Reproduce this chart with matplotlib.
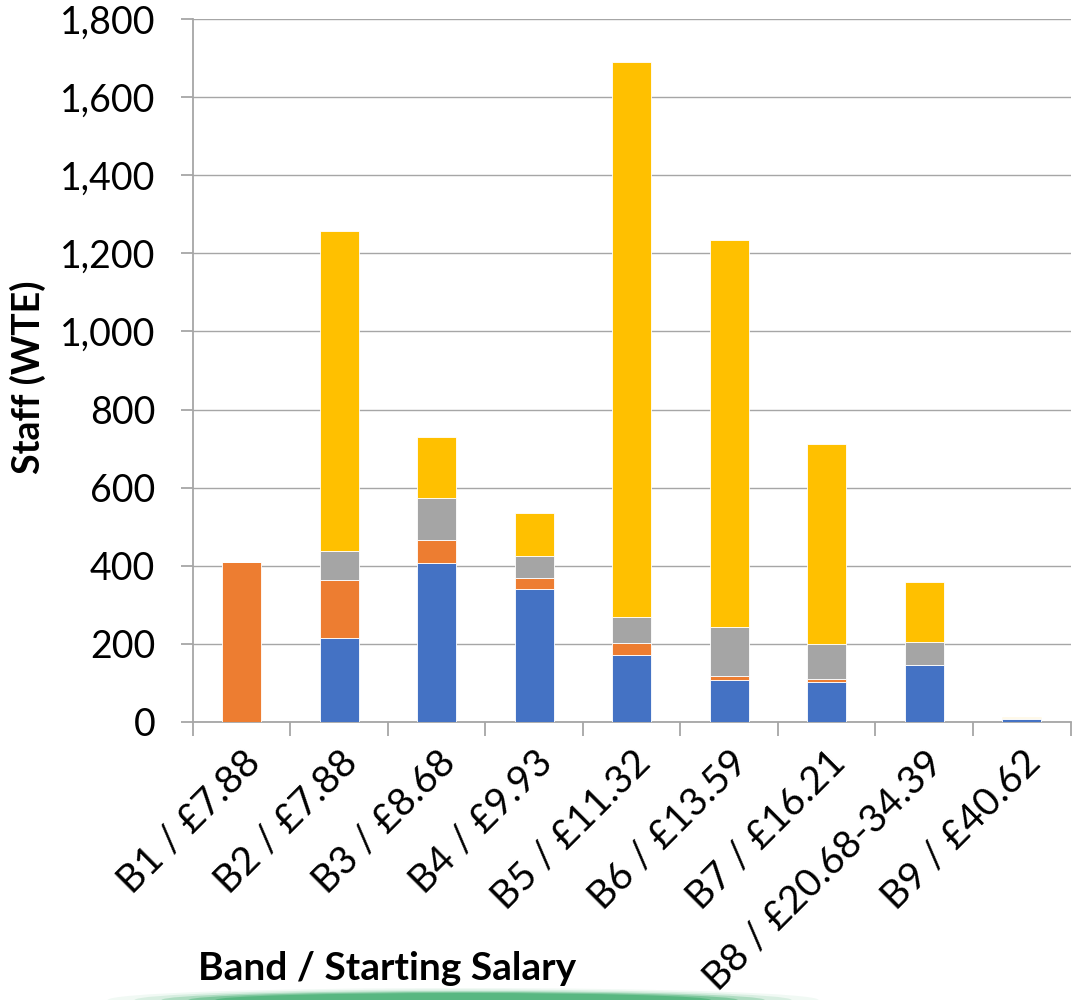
import numpy as np
from matplotlib import pyplot as plt
from matplotlib.patches import Ellipse
from matplotlib.ticker import FuncFormatter, MultipleLocator

plt.rcParams["font.family"] = ["Lato", "DejaVu Sans"]

# Data
bands = ["B1 / £7.88", "B2 / £7.88", "B3 / £8.68", "B4 / £9.93", "B5 / £11.32",
         "B6 / £13.59", "B7 / £16.21", "B8 / £20.68-34.39", "B9 / £40.62"]
series_1 = [0, 214, 407, 341, 172, 107, 103, 147, 8]
series_2 = [410, 149, 59, 28, 31, 11, 7, 0, 0]
series_3 = [0, 75, 107, 56, 66, 126, 90, 58, 1]
series_4 = [0, 820, 156, 110, 1421, 989, 511, 153, 3]

colors = ["#4472C4", "#ED7D31", "#A5A5A5", "#FFC000"]

fig = plt.figure(figsize=(10.77, 10), dpi=100)
ax = fig.add_axes([0.179, 0.278, 0.815, 0.703])

x = np.arange(len(bands))
bottom = np.zeros(len(bands))
for values, color in zip([series_1, series_2, series_3, series_4], colors):
    ax.bar(x, values, width=0.4, bottom=bottom, color=color,
           edgecolor="white", linewidth=0.6, zorder=3)
    bottom += np.array(values)

# Axes styling
ax.set_xlim(-0.5, len(bands) - 0.5)
ax.set_ylim(0, 1800)
ax.yaxis.set_major_locator(MultipleLocator(200))
ax.yaxis.set_major_formatter(FuncFormatter(lambda v, p: f"{int(v):,}"))
ax.grid(axis="y", color="#a6a6a6", linewidth=1.0, zorder=0)

for side in ["top", "right"]:
    ax.spines[side].set_visible(False)
for side in ["left", "bottom"]:
    ax.spines[side].set_color("#a6a6a6")
    ax.spines[side].set_linewidth(1.3)

ax.tick_params(axis="y", direction="out", length=9, width=1.3, color="#a6a6a6",
               labelsize=27, pad=18)
ax.set_xticks(x)
ax.set_xticks(np.arange(len(bands) + 1) - 0.5, minor=True)
ax.tick_params(axis="x", which="major", length=0, pad=16)
ax.tick_params(axis="x", which="minor", direction="out", length=10, width=1.3,
               color="#a6a6a6")
ax.set_xticklabels(bands, rotation=45, ha="right", rotation_mode="anchor",
                   fontsize=28)

fig.text(0.026, 0.623, "Staff (WTE)", fontsize=27, fontweight="bold",
         rotation=90, ha="center", va="center")
fig.text(0.359, 0.032, "Band / Starting Salary", fontsize=28, fontweight="bold",
         ha="center", va="center")

# Decorative green arc at bottom (soft edges)
for w, h, a in [(0.66, 0.024, 0.08), (0.61, 0.021, 0.15), (0.56, 0.018, 0.3),
                (0.51, 0.016, 0.5), (0.46, 0.014, 0.8)]:
    fig.patches.append(Ellipse((0.43, 0.0), w, h, transform=fig.transFigure,
                               facecolor="#4fb47a", edgecolor="none", alpha=a,
                               zorder=0))

fig.savefig("out.png", dpi=100)
